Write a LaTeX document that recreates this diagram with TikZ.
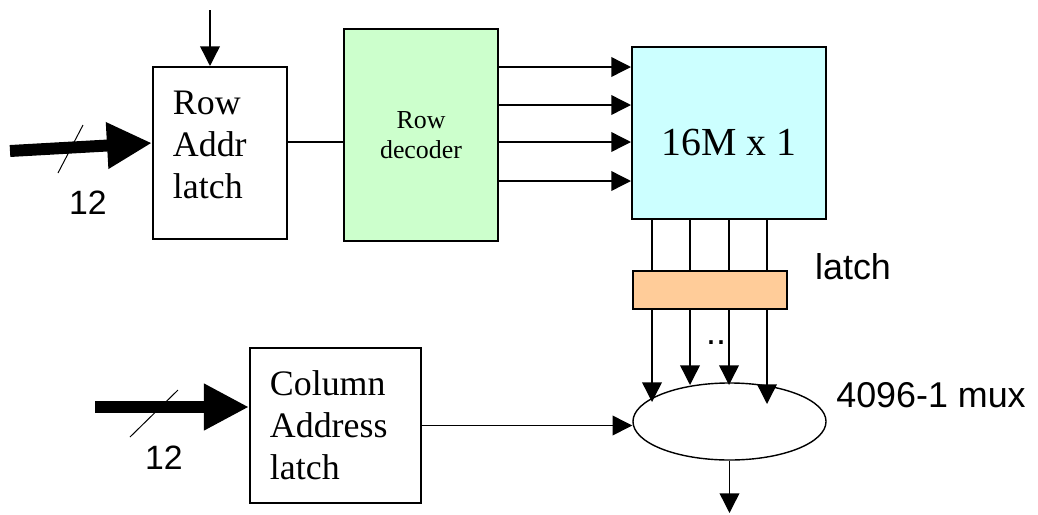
\documentclass[tikz,border=0pt]{standalone}
\usepackage{fontspec}
\setmainfont{Liberation Serif}
\setsansfont{Liberation Sans}
\usetikzlibrary{arrows.meta,positioning,calc,shapes.geometric}
\definecolor{decgreen}{RGB}{204,255,204}
\definecolor{memcyan}{RGB}{204,255,255}
\definecolor{latchorange}{RGB}{255,204,153}

\begin{document}
\begin{tikzpicture}[x=0.025cm,y=-0.025cm,
  blk/.style={draw,line width=1.4pt,inner sep=0pt,align=center},
  latchblk/.style={blk,inner xsep=0.5cm,align=left,font=\fontsize{25.5}{29.8}\selectfont},
  arr/.style={-{Triangle[length=14pt,width=14pt]},line width=1pt},
  bus/.style={-{Triangle[length=32pt,width=31pt]},line width=8.5pt},
  wire/.style={line width=1pt},
  lbl/.style={font=\sffamily\fontsize{25.5}{30}\selectfont},
  bitlbl/.style={font=\sffamily\fontsize{24}{28}\selectfont}]
  \useasboundingbox (0,0) rectangle (1038,514);
  \node[blk,inner xsep=0.5cm,font=\fontsize{25.5}{29.8}\selectfont,minimum height=4.3cm] (rowlatch) at (220,153)
    {\raisebox{0.2cm}[\height][\depth]{\parbox{2.35cm}{Row\\Addr\\latch}}};
  \node[blk,fill=decgreen,minimum width=3.85cm,minimum height=5.3cm,font=\fontsize{18.4}{21.3}\selectfont] (rowdec) at (421,135) {Row\\decoder};
  \node[blk,fill=memcyan,minimum width=4.85cm,minimum height=4.3cm,text height=1.1cm,text depth=0pt,font=\fontsize{28.3}{34}\selectfont] (mem) at (729,133) {16M x 1};
  \node[blk,fill=latchorange,minimum width=3.85cm,minimum height=0.95cm] (latchbar) at (710,290) {};
  \node[draw,ellipse,line width=1pt,inner sep=0pt,minimum width=4.825cm,minimum height=1.925cm] (mux) at (729.5,421.5) {};
  \node[latchblk,text width=3.275cm,minimum height=3.875cm] (collatch) at (335.5,425.5) {Column\\Address\\latch};
  \node[lbl] (latchlbl) at (853,267) {latch};
  \node[lbl] (muxlbl) at (931,395) {4096-1 mux};
  \node[lbl,anchor=base] (dots) at (716,344) {..};
  \node[bitlbl] (rowbits) at (88,203) {12};
  \node[bitlbl] (colbits) at (164,458) {12};
  \coordinate (rowin) at (10,151);
  \coordinate (colin) at (95,407);
  \coordinate (rowstrobe) at (210,10);
  \coordinate (muxout) at (729.5,513);
  \draw[bus] (rowin) -- ($(rowlatch.west)+(0,-10)$);
  \draw[bus] (colin) -- (collatch.west |- colin);
  \draw[wire,line width=0.7pt] (58,173) -- (83,125);
  \draw[wire,line width=0.7pt] (130,437) -- (178,390);
  \draw[arr] (rowstrobe) -- (rowstrobe |- rowlatch.north);
  \coordinate (rl) at ($(rowlatch.east)+(0,-11)$);
  \draw[wire] (rl) -- (rl -| rowdec.west);
  \foreach \y in {67,105,142,181}
    \draw[arr] (rowdec.east |- 0,\y) -- (mem.west |- 0,\y);
  \foreach \x in {652,690,729,767}
    \draw[wire] (mem.south -| \x,0) -- (latchbar.north -| \x,0);
  \foreach \x/\t [count=\i] in {652/402,690/385,729/385,767/404} {
    \coordinate (mi\i) at (\x,\t);
    \draw[arr] (latchbar.south -| \x,0) -- (mi\i);
  }
  \draw[arr] (collatch.east) -- (collatch.east -| mux.west);
  \draw[arr] (mux.south) -- (muxout);
\end{tikzpicture}
\end{document}
